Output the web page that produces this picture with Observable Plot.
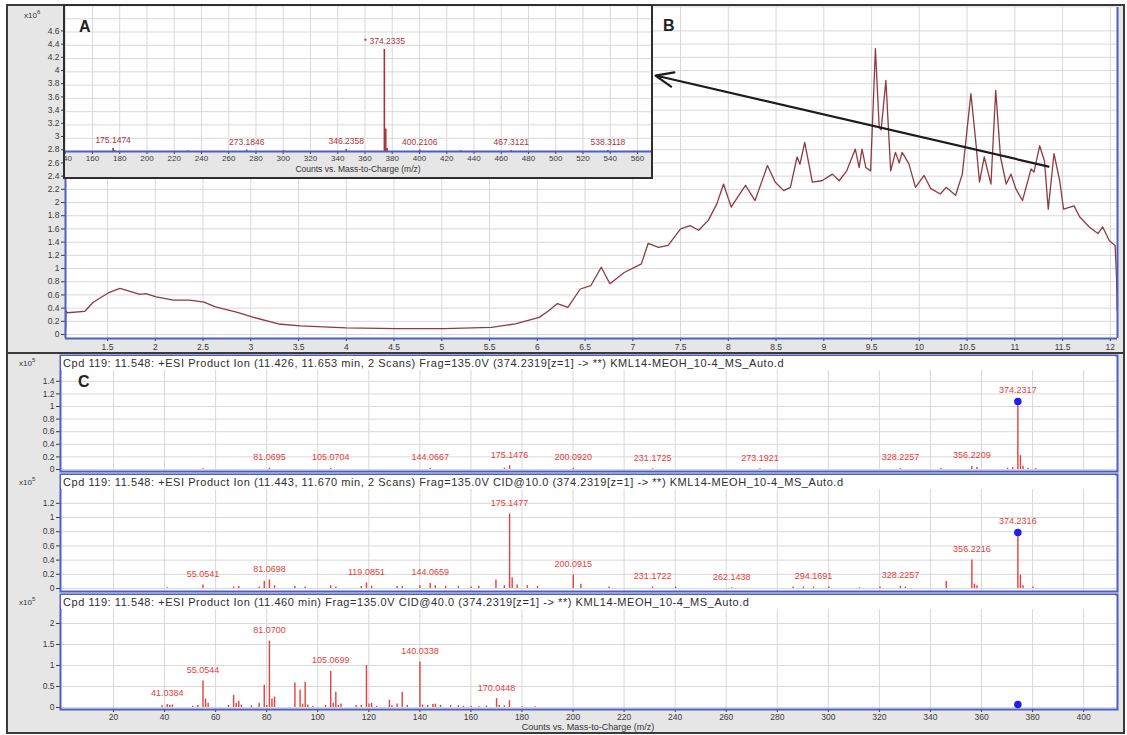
<!DOCTYPE html>
<html><head><meta charset="utf-8">
<script src="https://cdn.jsdelivr.net/npm/d3@7"></script>
<script src="https://cdn.jsdelivr.net/npm/@observablehq/plot@0.6"></script>
<style>
body{margin:0;background:#fff;font-family:"Liberation Sans",Arial,sans-serif;}
#fig{position:relative;width:1127px;height:735px;background:#fff;overflow:hidden;}
#fig svg{max-width:none !important;overflow:visible;}
.t{position:absolute;white-space:nowrap;color:#333;}
</style></head><body><div id="fig"></div>
<script>
// ---------- B: total ion chromatogram (x10^6 counts vs time, min) ----------
const bTime = [1.06,1.065,1.08,1.26,1.35,1.52,1.63,1.70,1.84,1.90,2.01,2.19,2.36,2.51,2.63,2.85,3.03,3.29,3.52,4.00,4.53,5.02,5.52,5.77,6.02,6.12,6.21,6.32,6.45,6.56,6.67,6.76,6.91,7.09,7.16,7.27,7.37,7.50,7.60,7.69,7.79,7.88,7.95,8.03,8.11,8.18,8.28,8.41,8.49,8.58,8.65,8.72,8.75,8.80,8.88,8.98,9.09,9.16,9.24,9.33,9.37,9.40,9.44,9.49,9.54,9.58,9.60,9.65,9.70,9.75,9.79,9.82,9.89,9.96,10.05,10.12,10.22,10.28,10.38,10.45,10.54,10.59,10.63,10.68,10.75,10.80,10.85,10.91,10.96,11.01,11.08,11.17,11.20,11.26,11.31,11.35,11.41,11.47,11.51,11.62,11.68,11.78,11.87,11.92,11.99,12.05,12.065,12.072];
const bInt = [0.05,0.36,0.33,0.35,0.49,0.64,0.70,0.67,0.61,0.62,0.57,0.52,0.52,0.49,0.42,0.34,0.26,0.16,0.13,0.10,0.09,0.09,0.11,0.16,0.26,0.36,0.47,0.41,0.69,0.74,1.02,0.77,0.94,1.07,1.38,1.32,1.35,1.60,1.65,1.58,1.73,1.98,2.28,1.93,2.11,2.26,2.03,2.56,2.31,2.18,2.23,2.69,2.58,2.91,2.31,2.33,2.43,2.33,2.48,2.81,2.53,2.81,2.53,2.48,4.33,3.14,3.10,3.85,2.48,2.76,2.60,2.76,2.59,2.23,2.41,2.21,2.13,2.23,2.11,2.43,3.65,2.94,2.31,2.69,2.28,3.70,2.69,2.28,2.43,2.21,2.03,2.51,2.46,2.86,2.63,1.90,2.74,2.33,1.90,1.95,1.78,1.63,1.53,1.63,1.42,1.35,0.86,0.36];
const bTimeTicks = [1.5,2,2.5,3,3.5,4,4.5,5,5.5,6,6.5,7,7.5,8,8.5,9,9.5,10,10.5,11,11.5,12];
const bIntTicks = [0,0.2,0.4,0.6,0.8,1,1.2,1.4,1.6,1.8,2,2.2,2.4,2.6,2.8,3,3.2,3.4,3.6,3.8,4,4.2,4.4,4.6];
const bTimeDomain = [1.06, 12.075];
const bIntDomain = [-0.06, 4.955];
// arrow from the 11.37 min region to the inset spectrum
const arrowFrom = [11.353, 2.545];
const arrowTo = [7.238, 3.924];

// ---------- A: inset MS spectrum (relative %) ----------
const aMz = [175.1474,176.15,230.2,273.1846,300.2,346.2358,374.2335,375.2369,376.24,400.2106,430.3,467.3121,538.3118];
const aInt = [3,1,0.8,1.5,0.8,2,100,22,3,1.5,0.8,1,1];
const aLabels = [175.1474,273.1846,346.2358,374.2335,400.2106,467.3121,538.3118];
const aPrecursor = 374.2335;
const aMzTicks = [140,160,180,200,220,240,260,280,300,320,340,360,380,400,420,440,460,480,500,520,540,560];
const aMzDomain = [140.2, 570.3];
const aIntDomain = [0, 142];

// ---------- C: product ion spectra (x10^5 counts vs m/z) ----------
const c1Mz = [55.05,81.0695,105.0704,144.0667,173.12,175.1476,200.0920,231.1725,273.1921,328.2257,344.2,356.2209,358.22,370.2,372.23,374.2317,375.2349,376.24,378.2,381.2];
const c1Int = [0.01,0.02,0.015,0.015,0.02,0.06,0.02,0.01,0.01,0.015,0.015,0.05,0.03,0.02,0.03,1.08,0.22,0.05,0.02,0.015];
const c1Labels = [81.0695,105.0704,144.0667,175.1476,200.0920,231.1725,273.1921,328.2257,356.2209,374.2317];
const c1Prec = [374.2317, 1.08];

const c2Mz = [41.04,55.0541,67.05,69.07,77.04,79.05,81.0698,83.08,91.05,95.08,105.07,107.08,117.07,119.0851,121.1,131.09,133.1,140.03,144.0659,146.06,150.1,155.1,160.1,163.1,169.8,173.1,175.1477,176.15,178.1,182.1,186.1,200.0915,203.1,214.1,231.1722,240.2,262.1438,286.2,290.2,294.1691,300.2,312.2,320.2,328.2257,330.2,346.2,356.2216,357.22,358.22,374.2316,375.23,376.24,380.2];
const c2Int = [0.01,0.05,0.02,0.03,0.02,0.1,0.12,0.04,0.03,0.02,0.04,0.02,0.03,0.08,0.03,0.03,0.03,0.04,0.07,0.04,0.03,0.03,0.02,0.03,0.12,0.04,1.05,0.15,0.05,0.04,0.03,0.19,0.06,0.02,0.02,0.02,0.01,0.02,0.02,0.02,0.02,0.01,0.02,0.03,0.02,0.1,0.40,0.06,0.04,0.79,0.19,0.04,0.02];
const c2Labels = [55.0541,81.0698,119.0851,144.0659,175.1477,200.0915,231.1722,262.1438,294.1691,328.2257,356.2216,374.2316];
const c2Prec = [374.2316, 0.79];

const c3Mz = [39.02,41.0384,42.03,43.05,51.02,53.04,55.0544,56.06,57.07,65.04,67.05,68.05,69.07,70.07,74.02,77.04,79.05,80.05,81.0700,82.07,83.08,91.05,93.07,94.07,95.08,96.08,98.07,103.05,105.0699,106.07,107.08,108.08,109.1,115.05,117.07,119.08,120.08,121.1,123.1,128.06,129.07,131.09,133.1,135.1,140.0338,141.04,143.09,145.1,146.06,148.1,152.06,155.1,157.1,160.1,163.1,166.1,170.0448,171.05,173.1,175.1,180.1,185.1];
const c3Int = [0.04,0.07,0.05,0.06,0.03,0.05,0.63,0.2,0.1,0.05,0.29,0.1,0.15,0.06,0.04,0.1,0.53,0.05,1.58,0.2,0.25,0.58,0.41,0.08,0.60,0.06,0.03,0.05,0.86,0.1,0.36,0.05,0.08,0.04,0.05,1.0,0.08,0.1,0.03,0.17,0.04,0.08,0.36,0.05,1.08,0.06,0.05,0.07,0.08,0.05,0.04,0.04,0.03,0.03,0.02,0.03,0.21,0.05,0.04,0.16,0.02,0.02];
const c3Labels = [41.0384,55.0544,81.0700,105.0699,140.0338,170.0448];
const c3Prec = [374.2319, 0.07];

const cMzTicks = [20,40,60,80,100,120,140,160,180,200,220,240,260,280,300,320,340,360,380,400];
const cMzDomain = [-0.76, 413.26];
const c1Ticks = [0,0.2,0.4,0.6,0.8,1,1.2,1.4];
const c2Ticks = [0,0.2,0.4,0.6,0.8,1,1.2];
const c3Ticks = [0,0.5,1,1.5,2];
const c1Domain = [-0.032, 1.81];
const c2Domain = [-0.042, 1.606];
const c3Domain = [-0.048, 2.69];

const headers = [
 "Cpd 119: 11.548: +ESI Product Ion (11.426, 11.653 min, 2 Scans) Frag=135.0V (374.2319[z=1] -> **) KML14-MEOH_10-4_MS_Auto.d",
 "Cpd 119: 11.548: +ESI Product Ion (11.443, 11.670 min, 2 Scans) Frag=135.0V CID@10.0 (374.2319[z=1] -> **) KML14-MEOH_10-4_MS_Auto.d",
 "Cpd 119: 11.548: +ESI Product Ion (11.460 min) Frag=135.0V CID@40.0 (374.2319[z=1] -> **) KML14-MEOH_10-4_MS_Auto.d"
];
const xTitle = "Counts vs. Mass-to-Charge (m/z)";

// ---------- styling ----------
const BLUE = "#4d5ec4", GRID = "#d8d8d8", LINE = "#8e3b40", RED = "#e5403b", DARKRED = "#a8353c", GUTTER = "#e6e6e6";
const FONT = "Liberation Sans, Arial, sans-serif";
const fig = document.getElementById("fig");
function box(l, t, w, h, css) {
  const d = document.createElement("div");
  Object.assign(d.style, {position:"absolute", left:l+"px", top:t+"px", width:w+"px", height:h+"px", boxSizing:"border-box"}, css || {});
  fig.appendChild(d); return d;
}
function txt(html, l, t, css) {
  const d = document.createElement("div"); d.className = "t"; d.innerHTML = html;
  Object.assign(d.style, {left:l+"px", top:t+"px"}, css || {});
  fig.appendChild(d); return d;
}
const zip = (a, b) => a.map((v, i) => ({mz: v, i: b[i]}));

// outer frame
box(6, 4, 1119, 730, {border:"2px solid #3a3a3a", background:GUTTER});

// ----- B plot -----
const tic = bTime.map((t, i) => ({t, v: bInt[i]}));
const bHost = box(8, 6, 1114, 346, {});
bHost.appendChild(Plot.plot({
  width: 1114, height: 346, marginLeft: 57, marginRight: 5, marginTop: 1, marginBottom: 14,
  style: {background: "transparent", fontSize: "8.5px", fontFamily: FONT, color: "#3a3a3a"},
  x: {domain: bTimeDomain, ticks: bTimeTicks, tickFormat: d => String(d), tickSize: 3, tickPadding: 2, label: null},
  y: {domain: bIntDomain, ticks: bIntTicks, tickFormat: d => String(d), tickSize: 4, tickPadding: 2, label: null},
  marks: [
    Plot.frame({fill: "white"}),
    Plot.ruleY(bIntTicks, {stroke: GRID}),
    Plot.ruleX(bTimeTicks, {stroke: GRID}),
    Plot.line(tic, {x: "t", y: "v", stroke: LINE, strokeWidth: 1.3}),
    Plot.ruleX(bTimeDomain, {stroke: BLUE, strokeWidth: 2}),
    Plot.ruleY([bIntDomain[0]], {stroke: BLUE, strokeWidth: 2}),
    Plot.arrow([{x1: arrowFrom[0], y1: arrowFrom[1], x2: arrowTo[0], y2: arrowTo[1]}],
      {x1: "x1", y1: "y1", x2: "x2", y2: "y2", stroke: "#1c1c1c", strokeWidth: 2.2, headLength: 13, headAngle: 45})
  ]
}));
txt("x10<sup style='font-size:6px'>6</sup>", 24, 9, {fontSize:"8px"});
txt("B", 663, 17, {fontSize:"16px", fontWeight:"bold", color:"#222"});

// ----- A inset -----
const aHost = box(63, 4, 590, 175, {border:"2px solid #2e2e2e", background:GUTTER, overflow:"hidden"});
const aPeaks = zip(aMz, aInt);
const aGrid = d3.range(0, aIntDomain[1], 13);
aHost.appendChild(Plot.plot({
  width: 586, height: 171, marginLeft: 0, marginRight: 0, marginTop: 0, marginBottom: 26,
  style: {background: "transparent", fontSize: "8px", fontFamily: FONT, color: "#3a3a3a"},
  x: {domain: aMzDomain, ticks: aMzTicks, tickFormat: d => String(d), tickSize: 3, tickPadding: 1, label: null},
  y: {domain: aIntDomain, axis: null},
  marks: [
    Plot.frame({fill: "white"}),
    Plot.ruleY(aGrid, {stroke: GRID}),
    Plot.ruleX(aMzTicks, {stroke: GRID}),
    Plot.ruleX(aPeaks, {x: "mz", y1: 0, y2: "i", stroke: DARKRED, strokeWidth: 1.6}),
    Plot.text(aPeaks.filter(d => aLabels.includes(d.mz)), {x: "mz", y: "i",
      text: d => (d.mz === aPrecursor ? "* " : "") + d.mz.toFixed(4), dy: -8, fill: DARKRED, fontSize: 8.5}),
    Plot.ruleY([0], {stroke: BLUE, strokeWidth: 2})
  ]
}));
txt(xTitle, 265, 164, {fontSize:"8.5px", width:"186px", textAlign:"center"});
txt("A", 79, 18, {fontSize:"16px", fontWeight:"bold", color:"#222"});

// separator between B and C
box(6, 352, 1119, 2, {background:"#3a3a3a"});

// ----- C panels -----
function cPanel(mz, ints, labels, prec, domain, ticks, top, height, showX, header) {
  const peaks = zip(mz, ints);
  const host = box(8, top, 1114, height, {});
  host.appendChild(Plot.plot({
    width: 1114, height, marginLeft: 52, marginRight: 5, marginTop: 0, marginBottom: showX ? 24 : 0,
    style: {background: "transparent", fontSize: "8.5px", fontFamily: FONT, color: "#3a3a3a"},
    x: {domain: cMzDomain, ticks: cMzTicks, tickFormat: d => String(d), tickSize: 3, tickPadding: 1, label: null, axis: showX ? "bottom" : null},
    y: {domain, ticks, tickFormat: d => String(d), tickSize: 4, tickPadding: 2, label: null},
    marks: [
      Plot.frame({fill: "white"}),
      Plot.ruleY(ticks, {stroke: GRID}),
      Plot.ruleX(cMzTicks, {stroke: GRID}),
      Plot.ruleX(peaks, {x: "mz", y1: 0, y2: "i", stroke: RED, strokeWidth: 1.4}),
      Plot.text(peaks.filter(d => labels.includes(d.mz)), {x: "mz", y: "i", text: d => d.mz.toFixed(4), dy: -11, fill: RED, fontSize: 9}),
      Plot.dot([{mz: prec[0], i: prec[1]}], {x: "mz", y: "i", r: 3, fill: "#1f1fe6", stroke: "#1f1fe6"}),
      Plot.frame({stroke: BLUE, strokeWidth: 2})
    ]
  }));
  txt(header, 61, top + 1, {fontSize:"11px", letterSpacing:"0.55px", background:"white", width:"1054px", height:"14px", lineHeight:"14px", paddingLeft:"2px", color:"#2f2f2f", overflow:"hidden", boxSizing:"border-box"});
  txt("x10<sup style='font-size:6px'>5</sup>", 19, top + 2, {fontSize:"8px"});
}
cPanel(c1Mz, c1Int, c1Labels, c1Prec, c1Domain, c1Ticks, 355, 116, false, headers[0]);
cPanel(c2Mz, c2Int, c2Labels, c2Prec, c2Domain, c2Ticks, 474, 117, false, headers[1]);
cPanel(c3Mz, c3Int, c3Labels, c3Prec, c3Domain, c3Ticks, 594, 139, true, headers[2]);
txt("C", 78, 373, {fontSize:"16px", fontWeight:"bold", color:"#222"});
txt(xTitle, 488, 722, {fontSize:"9px", lineHeight:"10px", width:"200px", textAlign:"center"});
</script></body></html>
